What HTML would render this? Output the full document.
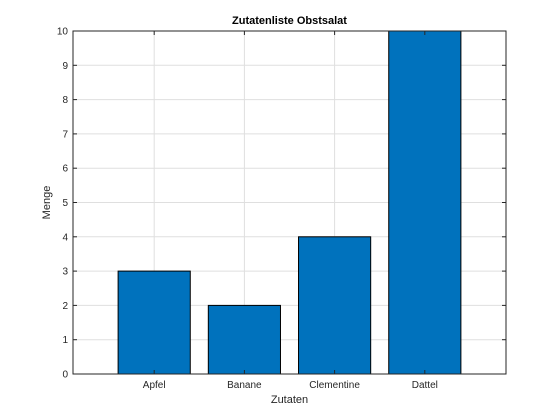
<!DOCTYPE html>
<html><head><meta charset="utf-8"><style>
body{margin:0;background:#fff;}
svg{display:block;font-family:"Liberation Sans",sans-serif;}
</style></head><body>
<svg id="chart" width="560" height="420">
<rect width="560" height="420" fill="#fff"/>
</svg>
<script>
const categories=["Apfel","Banane","Clementine","Dattel"];
const values=[3,2,4,10];
const yTicks=[0,1,2,3,4,5,6,7,8,9,10];
const L=73,R=506,T=31,B=374,xmin=0.1,xmax=4.9,ymin=0,ymax=10;
const NS="http://www.w3.org/2000/svg";
const svg=document.getElementById('chart');
function sx(v){return L+(v-xmin)/(xmax-xmin)*(R-L);}
function sy(v){return B-(v-ymin)/(ymax-ymin)*(B-T);}
function mk(t,a,p){const e=document.createElementNS(NS,t);for(const k in a)e.setAttribute(k,a[k]);(p||svg).appendChild(e);return e;}
const g=mk('g',{});


yTicks.forEach(v=>{const l=mk('line',{x1:L,x2:R,y1:sy(v),y2:sy(v),stroke:'#dfdfdf','stroke-width':1},g);

});
categories.forEach((c,i)=>{const l=mk('line',{x1:sx(i+1),x2:sx(i+1),y1:T,y2:B,stroke:'#dfdfdf','stroke-width':1},g);

});
values.forEach((v,i)=>{const x0=sx(i+1-0.4),x1=sx(i+1+0.4);
const r=mk('rect',{x:x0,y:sy(v),width:x1-x0,height:sy(0)-sy(v),fill:'#0072bd',stroke:'#000','stroke-width':1});

});
const box=mk('rect',{x:L,y:T,width:R-L,height:B-T,fill:'none',stroke:'#262626','stroke-width':1});


yTicks.forEach(v=>{const y=sy(v);
mk('line',{x1:L,x2:L+4,y1:y,y2:y,stroke:'#262626'});mk('line',{x1:R,x2:R-4,y1:y,y2:y,stroke:'#262626'});
const t=mk('text',{x:L-5,y:y+3.5,'text-anchor':'end','font-size':10,fill:'#262626'});t.textContent=v;

});
categories.forEach((c,i)=>{const x=sx(i+1);
mk('line',{x1:x,x2:x,y1:B,y2:B-4,stroke:'#262626'});mk('line',{x1:x,x2:x,y1:T,y2:T+4,stroke:'#262626'});
const t=mk('text',{x:x,y:B+14,'text-anchor':'middle','font-size':10,fill:'#262626'});t.textContent=c;

});
const ti=mk('text',{x:(L+R)/2,y:24,'text-anchor':'middle','font-size':11,'font-weight':'bold',fill:'#000'});ti.textContent='Zutatenliste Obstsalat';


const xl=mk('text',{x:(L+R)/2,y:403,'text-anchor':'middle','font-size':11,fill:'#262626'});xl.textContent='Zutaten';


const yl=mk('text',{x:0,y:0,transform:'translate(50,'+((T+B)/2)+') rotate(-90)','text-anchor':'middle','font-size':11,fill:'#262626'});yl.textContent='Menge';


</script>
</body></html>
